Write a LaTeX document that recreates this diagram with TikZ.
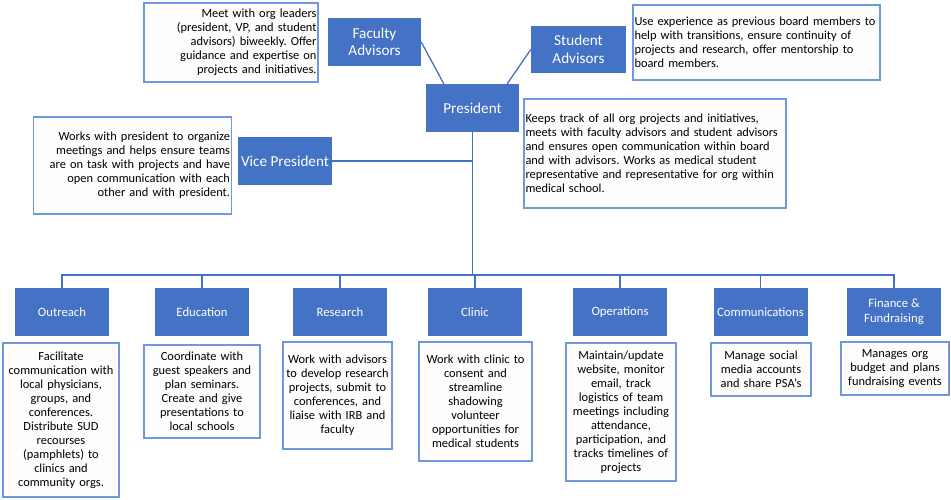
\documentclass[tikz,border=0pt]{standalone}
\usepackage{fontspec}
\setmainfont{Carlito}
\frenchspacing
\definecolor{ofblue}{HTML}{4472C4}
\definecolor{descline}{HTML}{6F98DD}
\definecolor{descfill}{HTML}{FDFDFD}
\begin{document}
\begin{tikzpicture}[x=1pt,y=-1pt,
  lab/.style={fill=ofblue, draw=none, text=white, inner sep=2pt, align=center,
    font=\fontsize{15.2}{17.5}\selectfont},
  sub/.style={fill=ofblue, draw=none, text=white, inner sep=2pt, align=center,
    minimum width=94pt, minimum height=48pt, font=\fontsize{12.7}{15}\selectfont},
  desc/.style={draw=descline, fill=descfill, line width=1.2pt, inner xsep=1.5pt, inner ysep=2pt,
    font=\fontsize{12.4}{14}\selectfont},
  conn/.style={draw=ofblue, line width=1.3pt}
]
\fill[white] (0,0) rectangle (951,499);
\useasboundingbox (0,0) rectangle (951,499);

% top level
\node[lab, minimum width=93pt, minimum height=48pt] (fac) at (374.5,42) {Faculty\\Advisors};
\node[lab, minimum width=95pt, minimum height=47pt] (stu) at (578.5,49.5) {Student\\Advisors};
\node[lab, minimum width=93pt, minimum height=48pt] (pres) at (472.5,108) {President};
\node[lab, minimum width=94pt, minimum height=48pt] (vp) at (285,161) {Vice President};

\node[desc, minimum height=79pt, text width=171pt, align=right] (facd) at (231,42.5)
  {Meet with org leaders\\(president, VP, and student\\advisors) biweekly. Offer\\guidance and expertise on\\projects and initiatives.};
\node[desc, minimum height=75pt, text width=244pt, align=left] (stud) at (756.5,42.5)
  {Use experience as previous board members to\\help with transitions, ensure continuity of\\projects and research, offer mentorship to\\board members.};
\node[desc, minimum height=109pt, text width=259pt, align=left] (presd) at (655,153.5)
  {Keeps track of all org projects and initiatives,\\meets with faculty advisors and student advisors\\and ensures open communication within board\\and with advisors. Works as medical student\\representative and representative for org within\\medical school.};
\node[desc, minimum height=97pt, text width=195pt, align=right] (vpd) at (132.5,165.5)
  {Works with president to organize\\meetings and helps ensure teams\\are on task with projects and have\\open communication with each\\other and with president.};

% connectors top
\draw[conn] (fac.east) -- ([xshift=18pt]pres.north west);
\draw[conn] (stu.west) -- ([xshift=-12pt]pres.north east);
\coordinate (bus) at (472.5,275);
\draw[conn] (pres.south) -- (bus);
\draw[conn] (vp.east) -- (vp.east -| pres.south);

% children
\node[sub] (out) at (62,312) {Outreach};
\node[sub] (edu) at (202,312) {Education};
\node[sub] (res) at (340,312) {Research};
\node[sub] (cli) at (475,312) {Clinic};
\node[sub] (ops) at (620,312) {Operations};
\node[sub] (com) at (760.5,312) {Communications};
\node[sub] (fin) at (894,312) {Finance \&\\Fundraising};

\foreach \c in {out,edu,res,cli,ops,com,fin}
  \draw[conn] (bus) -| (\c.north);

\node[desc, minimum height=154pt, text width=113pt, align=center] (outd) at (61,420)
  {Facilitate\\communication with\\local physicians,\\groups, and\\conferences.\\Distribute SUD\\recourses\\(pamphlets) to\\clinics and\\community orgs.};
\node[desc, minimum height=93pt, text width=113pt, align=center] (edud) at (202,391.5)
  {Coordinate with\\guest speakers and\\plan seminars.\\Create and give\\presentations to\\local schools};
\node[desc, minimum height=107pt, text width=106pt, align=center] (resd) at (337.5,395.5)
  {Work with advisors\\to develop research\\projects, submit to\\conferences, and\\liaise with IRB and\\faculty};
\node[desc, minimum height=119pt, text width=110pt, align=center] (clid) at (475.5,401.5)
  {Work with clinic to\\consent and\\streamline\\shadowing\\volunteer\\opportunities for\\medical students};
\node[desc, minimum height=138pt, text width=107pt, align=center] (opsd) at (621,412)
  {Maintain/update\\website, monitor\\email, track\\logistics of team\\meetings including\\attendance,\\participation, and\\tracks timelines of\\projects};
\node[desc, minimum height=53pt, text width=97pt, align=center] (comd) at (761,369.5)
  {Manage social\\media accounts\\and share PSA’s};
\node[desc, minimum height=53pt, text width=105pt, align=center] (find) at (895,368.5)
  {Manages org\\budget and plans\\fundraising events};
\end{tikzpicture}
\end{document}
